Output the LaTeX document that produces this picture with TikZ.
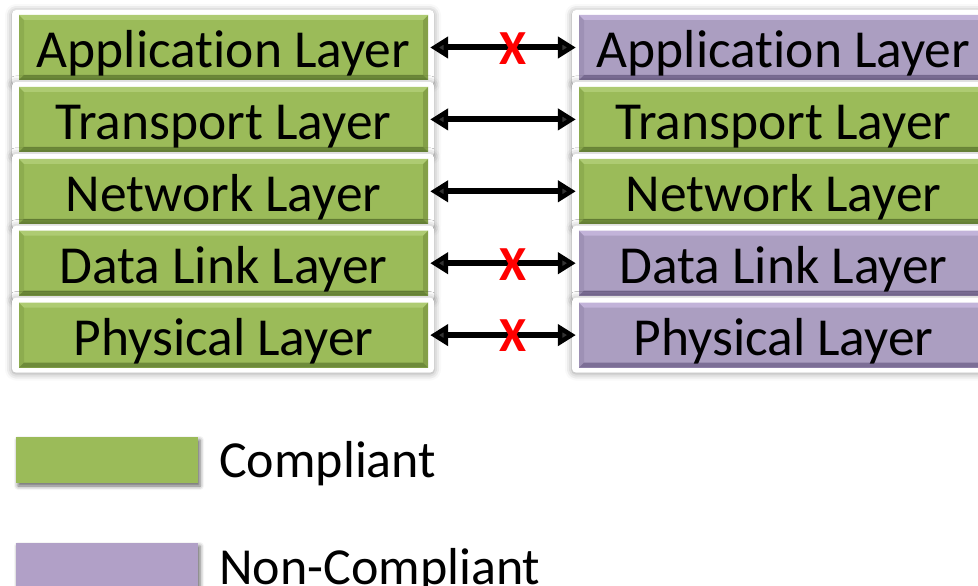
\documentclass[tikz,border=0pt]{standalone}
\usepackage{fontspec}
\setmainfont{Carlito}[Ligatures={NoCommon}]
\usetikzlibrary{arrows.meta,shadows,shadows.blur,calc}
\definecolor{grn}{HTML}{9BBB59}
\definecolor{grnT}{HTML}{AECB72}
\definecolor{grnB}{HTML}{6E8B3A}
\definecolor{grnL}{HTML}{8DAC4F}
\definecolor{grnR}{HTML}{84A048}
\definecolor{prp}{HTML}{AB9EC1}
\definecolor{prpT}{HTML}{C2B3D9}
\definecolor{prpB}{HTML}{7C6E96}
\definecolor{prpL}{HTML}{9E91B5}
\definecolor{prpR}{HTML}{9689AC}
\definecolor{legG}{HTML}{9BBB59}
\definecolor{legP}{HTML}{B1A0C7}
\definecolor{xred}{HTML}{FF0000}
\tikzset{
  bevel/.style n args={4}{path picture={
    \coordinate (bnw) at (path picture bounding box.north west);
    \coordinate (bne) at (path picture bounding box.north east);
    \coordinate (bsw) at (path picture bounding box.south west);
    \coordinate (bse) at (path picture bounding box.south east);
    \fill[#3] (bnw) -- (bsw) -- ($(bsw)+(5pt,5pt)$) -- ($(bnw)+(5pt,-5pt)$) -- cycle;
    \fill[#4] (bne) -- (bse) -- ($(bse)+(-5pt,5pt)$) -- ($(bne)+(-5pt,-5pt)$) -- cycle;
    \fill[#1] (bnw) -- (bne) -- ($(bne)+(-5pt,-5pt)$) -- ($(bnw)+(5pt,-5pt)$) -- cycle;
    \fill[#2] (bsw) -- (bse) -- ($(bse)+(-5pt,5pt)$) -- ($(bsw)+(5pt,5pt)$) -- cycle;
  }},
  layerbox/.style={minimum width=409pt, minimum height=65pt, inner sep=0pt,
    text height=50pt, text depth=10pt, font=\fontsize{53.5}{60}\selectfont},
  cmp/.style={layerbox, fill=grn, bevel={grnT}{grnB}{grnL}{grnR}},
  non/.style={layerbox, fill=prp, bevel={prpT}{prpB}{prpL}{prpR}},
  backing/.style={fill=white, rounded corners=4pt,
    blur shadow={shadow xshift=0pt, shadow yshift=-1pt, shadow blur radius=7pt, shadow opacity=40}},
  dbl/.style={line width=6pt, {Triangle[length=18pt,width=21pt]}-{Triangle[length=18pt,width=21pt]},
    shorten <=2pt, shorten >=3pt},
  xmark/.style={text=xred, font=\fontsize{49}{49}\bfseries, inner sep=0pt, yshift=-1pt},
  legbox/.style={minimum width=182pt, minimum height=46pt, inner sep=0pt,
    blur shadow={shadow xshift=2pt, shadow yshift=-3pt, shadow blur radius=4pt, shadow opacity=60}},
  legtext/.style={anchor=base west, inner sep=0pt, font=\fontsize{52}{60}\selectfont}
}
\begin{document}
\begin{tikzpicture}[x=1pt,y=-1pt]
\useasboundingbox (0,0) rectangle (978,586);
\clip (0,0) rectangle (978,586);
\foreach \i/\yy/\txt/\ls/\rs in {
  1/47.5/Application Layer/cmp/non,
  2/119.4/Transport Layer/cmp/cmp,
  3/191.3/Network Layer/cmp/cmp,
  4/263.2/Data Link Layer/cmp/non,
  5/335.1/Physical Layer/cmp/non}{
  \path[backing] (12,\yy-37.5) rectangle (434,\yy+37.5);
  \path[backing] (572,\yy-37.5) rectangle (1000,\yy+37.5);
  \node[\ls] (L\i) at (223.5,\yy) {\txt};
  \node[\rs] (R\i) at (783.5,\yy) {\txt};
}
\foreach \i/\crs in {1/1,2/0,3/0,4/1,5/1}{
  \draw[dbl] (L\i.east) -- (R\i.west);
  \ifnum\crs=1
    \path (L\i.east) -- node[xmark, pos=0.56] (X\i) {X} (R\i.west);
  \fi
}
\node[legbox, fill=legG] (lg) at (107,460) {};
\node[legtext] (lgt) at (219,477) {Compliant};
\node[legbox, fill=legP] (lp) at (107,566) {};
\node[legtext] (lpt) at (219,584) {Non-Compliant};
\end{tikzpicture}
\end{document}
